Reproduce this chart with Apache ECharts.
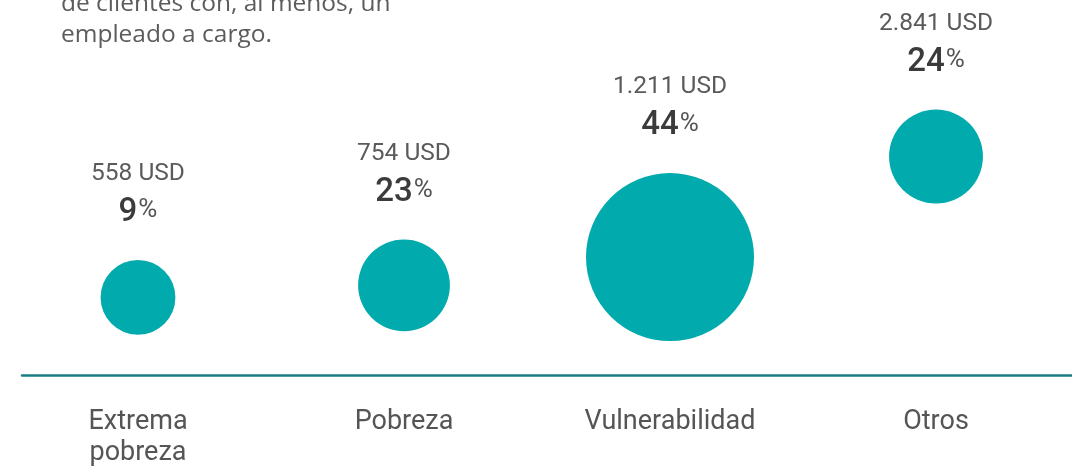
<!DOCTYPE html>
<html>
<head>
<meta charset="utf-8">
<script src="https://cdn.jsdelivr.net/npm/echarts@6/dist/echarts.min.js"></script>
<style>
  html, body { margin: 0; padding: 0; background: #ffffff; }
  #chart { width: 1072px; height: 469px; }
</style>
</head>
<body>
<div id="chart"></div>
<script>
// Ingreso medio mensual y peso de cada segmento
const categories = ['Extrema pobreza', 'Pobreza', 'Vulnerabilidad', 'Otros'];
const ingresoUSD = [558, 754, 1211, 2841];
const porcentaje = [9, 23, 44, 24];

const TEAL = '#00aaad';

// 1211 -> "1.211"
function formatUSD(v) {
  return String(v).replace(/\B(?=(\d{3})+(?!\d))/g, '.');
}

// bubble diameter grows with the share of clients
function bubbleSize(p) {
  return 73 + 0.0074 * Math.pow(p, 2.5);
}

const chart = echarts.init(document.getElementById('chart'), null, { renderer: 'canvas' });

chart.setOption({
  animation: false,
  backgroundColor: '#ffffff',
  title: {
    text: 'de clientes con, al menos, un\nempleado a cargo.',
    left: 56,
    top: -16,
    textStyle: {
      fontFamily: 'Open Sans',
      fontSize: 24.5,
      fontWeight: 'normal',
      color: '#5c5c5c',
      lineHeight: 31
    }
  },
  grid: [
    { left: 5, right: 3, top: 85, bottom: 94 },
    { left: 22, right: 0, top: 85, bottom: 94 }
  ],
  xAxis: [
    {
      type: 'category',
      gridIndex: 0,
      data: categories,
      axisLine: { show: false },
      axisTick: { show: false },
      splitLine: { show: false },
      axisLabel: {
        margin: 32,
        interval: 0,
        fontFamily: 'Roboto',
        fontSize: 27,
        lineHeight: 31,
        color: '#555555',
        formatter: function (name) { return name.replace(' ', '\n'); }
      }
    },
    {
      type: 'value',
      gridIndex: 1,
      min: 0,
      max: 1,
      axisLine: { show: true, onZero: false, lineStyle: { color: '#1c7d84', width: 2.5 } },
      axisTick: { show: false },
      axisLabel: { show: false },
      splitLine: { show: false }
    }
  ],
  yAxis: [
    { type: 'value', gridIndex: 0, min: -700, max: 4000, show: false },
    { type: 'value', gridIndex: 1, min: 0, max: 1, show: false }
  ],
  series: [
    {
      type: 'scatter',
      xAxisIndex: 0,
      yAxisIndex: 0,
      data: ingresoUSD.map(function (v, i) { return [i, v]; }),
      symbol: 'circle',
      symbolSize: function (val, params) { return bubbleSize(porcentaje[params.dataIndex]); },
      itemStyle: { color: TEAL, opacity: 1 },
      emphasis: { disabled: true },
      label: {
        show: true,
        position: 'top',
        distance: 28,
        align: 'center',
        formatter: function (params) {
          const i = params.dataIndex;
          return '{u|' + formatUSD(ingresoUSD[i]) + ' USD}\n{p|' + porcentaje[i] + '}{pc|%}';
        },
        rich: {
          u: { fontFamily: 'Roboto', fontSize: 24.5, color: '#5b5b5b', lineHeight: 40 },
          p: { fontFamily: 'Roboto', fontSize: 33, fontWeight: 500, color: '#3b3b3b', lineHeight: 38 },
          pc: { fontFamily: 'Roboto', fontSize: 26, color: '#555555', lineHeight: 38, padding: [0, 0, 4, 1] }
        }
      }
    }
  ]
});
</script>
</body>
</html>
